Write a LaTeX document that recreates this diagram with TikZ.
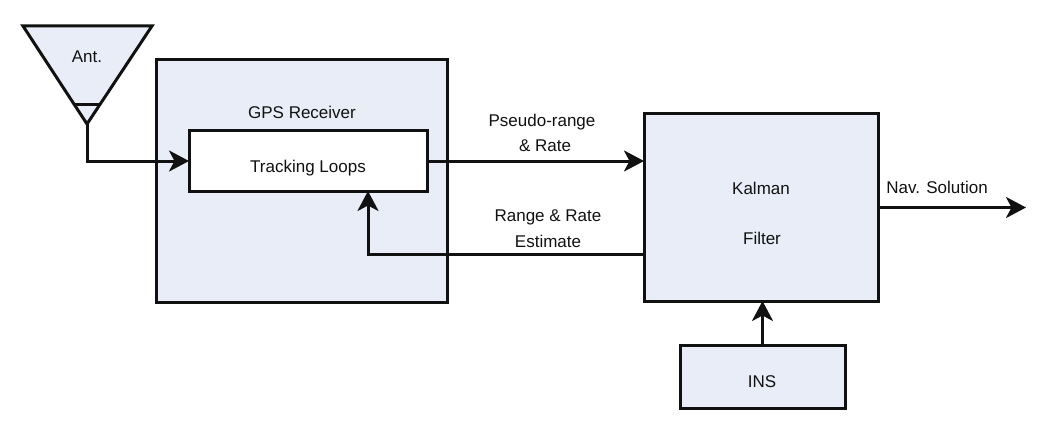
\documentclass[tikz,border=0pt]{standalone}
\usepackage{fontspec}
\setmainfont{Liberation Sans}
\usetikzlibrary{arrows.meta,calc}
\definecolor{boxfill}{HTML}{E8EDF7}
\definecolor{ink}{HTML}{111111}
\tikzset{
  blockbox/.style={draw=ink,line width=3pt,fill=boxfill,inner sep=0pt,outer sep=0pt,anchor=north west},
  whitebox/.style={blockbox,fill=white},
  lbl/.style={font=\fontsize{17}{20}\selectfont,text=ink,inner sep=0pt,align=center},
  flow/.style={draw=ink,line width=3pt,-{Stealth[length=20pt,width=21pt,inset=5.5pt]}},
  plain/.style={draw=ink,line width=3pt}
}
\newcommand{\blockAt}[6]{\node[#1,minimum width=#4 pt,minimum height=#5 pt] (#6) at (#2,#3) {};}
\begin{document}
\begin{tikzpicture}[x=1pt,y=-1pt]
\useasboundingbox (0,0) rectangle (1054,433);
% antenna
\coordinate (antL) at (23,26);
\coordinate (antR) at (152,26);
\coordinate (antTip) at (87,124);
\coordinate (antA) at (74.5,105);
\coordinate (antB) at (99.5,105);
\draw[draw=ink,fill=boxfill,line width=3pt,line join=miter] (antL) -- (antR) -- (antTip) -- cycle;
\draw[plain] (antA) -- (antB);
\node[lbl] (antlabel) at (87,56.5) {Ant.};
% blocks
\blockAt{blockbox}{156}{60}{291}{242}{recv}
\blockAt{whitebox}{189}{131}{238}{60}{track}
\blockAt{blockbox}{644}{114}{234}{187}{kalman}
\blockAt{blockbox}{680}{345}{165}{63}{ins}
\coordinate (navEnd) at (1026,207.5);
\coordinate (fbCorner) at (368,254.5);
\coordinate (fbStart) at (644,254.5);
\coordinate (fbEnd) at (368,191);
\coordinate (prEnd) at (644,161);
\coordinate (insTop) at (762.5,301);
\coordinate (antIn) at (87,161);
% labels
\node[lbl] (l1) at (302,112) {GPS Receiver};
\node[lbl] (l2) at (308,168) {Tracking Loops};
\node[lbl] (l3) at (761,188.5) {Kalman};
\node[lbl] (l4) at (762,238) {Filter};
\node[lbl] (l5) at (762,382) {INS};
\node[lbl] (l6) at (542,122) {Pseudo-range};
\node[lbl] (l7) at (545,146) {\& Rate};
\node[lbl] (l8) at (548,217) {Range \& Rate};
\node[lbl] (l9) at (548,241) {Estimate};
\node[lbl] (l10) at (937,187) {Nav. Solution};
% connectors
\draw[flow,line join=miter] (antTip) -- (antIn) -- (track.west);
\draw[flow] (track.east) -- (prEnd);
\draw[flow,line join=miter] (fbStart) -- (fbCorner) -- (fbEnd);
\draw[flow] (kalman.east) -- (navEnd);
\draw[flow] (ins.north) -- (insTop);
\end{tikzpicture}
\end{document}
